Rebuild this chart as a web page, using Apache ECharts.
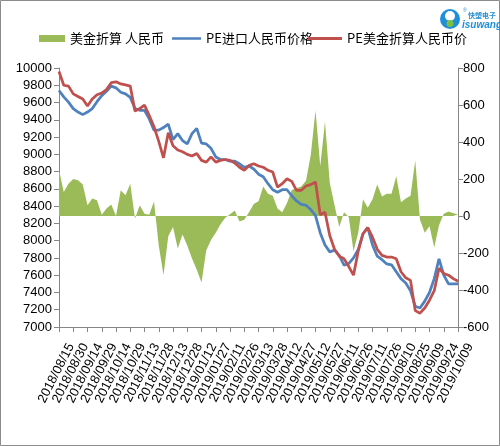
<!DOCTYPE html>
<html><head><meta charset="utf-8">
<script src="https://cdn.jsdelivr.net/npm/echarts@6/dist/echarts.min.js"></script>
<style>html,body{margin:0;padding:0;background:#fff}#c{width:500px;height:446px}</style>
</head><body><div id="c"></div>
<script>
const dates = ['2018/08/15','2018/08/20','2018/08/25','2018/08/30','2018/09/04','2018/09/09','2018/09/14','2018/09/19','2018/09/24','2018/09/29',
'2018/10/04','2018/10/09','2018/10/14','2018/10/19','2018/10/24','2018/10/29','2018/11/03','2018/11/08','2018/11/13','2018/11/18',
'2018/11/23','2018/11/28','2018/12/03','2018/12/08','2018/12/13','2018/12/18','2018/12/23','2018/12/28','2019/01/02','2019/01/07',
'2019/01/12','2019/01/17','2019/01/22','2019/01/27','2019/02/01','2019/02/06','2019/02/11','2019/02/16','2019/02/21','2019/02/26',
'2019/03/03','2019/03/08','2019/03/13','2019/03/18','2019/03/23','2019/03/28','2019/04/02','2019/04/07','2019/04/12','2019/04/17',
'2019/04/22','2019/04/27','2019/05/02','2019/05/07','2019/05/12','2019/05/17','2019/05/22','2019/05/27','2019/06/01','2019/06/06',
'2019/06/11','2019/06/16','2019/06/21','2019/06/26','2019/07/01','2019/07/06','2019/07/11','2019/07/16','2019/07/21','2019/07/26',
'2019/07/31','2019/08/05','2019/08/10','2019/08/15','2019/08/20','2019/08/25','2019/08/30','2019/09/04','2019/09/09','2019/09/14',
'2019/09/19','2019/09/24','2019/09/29','2019/10/04','2019/10/09'];

const spread = [250,130,175,200,193,170,58,94,85,7,
 40,62,0,139,112,175,-14,58,12,7,
 79,-160,-320,-110,-60,-175,-100,-160,-230,-290,
 -360,-185,-130,-90,-45,-10,10,30,-30,-20,
 20,65,80,160,120,110,40,20,70,140,
 150,160,190,330,570,270,510,180,60,-60,
 20,-5,-190,-90,90,45,90,170,105,120,
 120,215,75,95,110,300,-20,-90,-55,-170,
 -50,12,25,15,10];

const importPrice = [9740,9665,9605,9530,9490,9460,9490,9530,9610,9680,
 9730,9790,9770,9720,9700,9660,9530,9510,9510,9410,
 9280,9280,9310,9350,9170,9240,9160,9120,9240,9300,
 9130,9120,9070,8970,8940,8940,8920,8920,8890,8850,
 8865,8830,8770,8740,8660,8590,8560,8590,8590,8520,
 8460,8420,8410,8360,8290,8090,7950,7870,7890,7830,
 7715,7735,7800,7900,8080,8150,7950,7820,7780,7730,
 7720,7640,7560,7510,7420,7240,7220,7300,7400,7560,
 7790,7600,7500,7500,7500];

const usdPrice = [9960,9800,9790,9700,9670,9640,9560,9640,9690,9710,
 9750,9830,9840,9815,9805,9790,9500,9530,9570,9450,
 9320,9150,8960,9250,9100,9050,9030,9000,8980,9010,
 8930,8910,8970,8910,8930,8940,8930,8900,8850,8815,
 8870,8890,8865,8850,8815,8795,8620,8660,8718,8687,
 8583,8583,8633,8649,8680,8300,8330,8060,7900,7820,
 7790,7700,7600,7880,8080,8150,8040,7900,7830,7810,
 7810,7790,7640,7570,7540,7190,7160,7220,7310,7420,
 7680,7620,7600,7560,7530];

const tickLabels = ['2018/08/15','2018/08/30','2018/09/14','2018/09/29','2018/10/14','2018/10/29','2018/11/13','2018/11/28','2018/12/13','2018/12/28',
'2019/01/12','2019/01/27','2019/02/11','2019/02/26','2019/03/13','2019/03/28','2019/04/12','2019/04/27','2019/05/12','2019/05/27',
'2019/06/11','2019/06/26','2019/07/11','2019/07/26','2019/08/10','2019/08/25','2019/09/09','2019/09/24','2019/10/09'];

const seriesNames = ['美金折算 人民币','PE进口人民币价格','PE美金折算人民币价'];

// daily date axis spanning first to last tick label
const DAY = 86400000;
function parseDay(s){const p=s.split('/');return Date.UTC(+p[0],+p[1]-1,+p[2]);}
const pad2 = n => String(n).padStart(2,'0');
const fmtDay = t => { const d = new Date(t); return d.getUTCFullYear()+'/'+pad2(d.getUTCMonth()+1)+'/'+pad2(d.getUTCDate()); };
const t0 = parseDay(tickLabels[0]);
const tEnd = parseDay(tickLabels[tickLabels.length-1]);
const axisDays = [];
for (let t = t0; t <= tEnd; t += DAY) axisDays.push(fmtDay(t));
const tickSet = new Set(tickLabels);
const pts = arr => arr.map((v,i)=>[dates[i], v]);

const axisGray = '#868686';
const numFont = '"Liberation Sans", Arial, sans-serif';
const cjkFont = '"Noto Sans CJK SC", sans-serif';
const lineIcon = 'path://M0,0H30V2.6H0Z';
const legendText = {fontSize:13, color:'#000', fontFamily:cjkFont};
const chart = echarts.init(document.getElementById('c'), null, {renderer:'canvas'});
chart.setOption({
  animation:false,
  backgroundColor:'#fff',
  grid:{left:59, right:42, top:68, bottom:119, outerBoundsMode:'none'},
  legend:[
    {top:32, left:39, padding:0, itemWidth:26, itemHeight:7, textStyle:legendText, data:[{name:seriesNames[0], icon:'rect'}]},
    {top:32, left:172, padding:0, itemWidth:29, itemHeight:8, textStyle:legendText, data:[{name:seriesNames[1], icon:lineIcon}]},
    {top:32, left:308, padding:0, itemWidth:34, itemHeight:8, textStyle:legendText, data:[{name:seriesNames[2], icon:lineIcon}]}
  ],
  xAxis:{
    type:'category', data:axisDays, boundaryGap:false,
    axisLine:{show:true, onZero:false, lineStyle:{color:axisGray, width:1}},
    axisTick:{show:true, interval:14, length:5, lineStyle:{color:axisGray}},
    splitLine:{show:false},
    axisLabel:{
      interval:0, rotate:63, align:'right', verticalAlign:'top', padding:[7,0,0,0], margin:11,
      fontSize:13, color:'#000', fontFamily:numFont,
      formatter: v => tickSet.has(v) ? v : ''
    }
  },
  yAxis:[{
    type:'value', min:7000, max:10000, interval:200, position:'left',
    axisLine:{show:true, lineStyle:{color:axisGray}},
    axisTick:{show:true, length:5, lineStyle:{color:axisGray}},
    splitLine:{show:false},
    axisLabel:{fontSize:13, color:'#000', margin:7, fontFamily:numFont, formatter: v => String(v)}
  },{
    type:'value', min:-600, max:800, interval:200, position:'right',
    axisLine:{show:true, lineStyle:{color:axisGray}},
    axisTick:{show:true, length:5, lineStyle:{color:axisGray}},
    splitLine:{show:false},
    axisLabel:{fontSize:13, color:'#000', margin:5, fontFamily:numFont, formatter: v => String(v)}
  }],
  series:[{
    name:seriesNames[0], type:'line', yAxisIndex:1, data:pts(spread), symbol:'none', showSymbol:false,
    lineStyle:{width:0}, itemStyle:{color:'#9BBB59'}, areaStyle:{color:'#9BBB59', opacity:1}, z:1
  },{
    name:seriesNames[1], type:'line', yAxisIndex:0, data:pts(importPrice), symbol:'none', showSymbol:false,
    lineStyle:{width:2.75, color:'#4F81BD'}, itemStyle:{color:'#4F81BD'}, z:2
  },{
    name:seriesNames[2], type:'line', yAxisIndex:0, data:pts(usdPrice), symbol:'none', showSymbol:false,
    lineStyle:{width:2.75, color:'#C0504D'}, itemStyle:{color:'#C0504D'}, z:3
  }],
  graphic:[
    {type:'rect', shape:{x:0.5,y:0.5,width:499,height:445}, style:{fill:'none', stroke:'#8c8c8c', lineWidth:1}, silent:true},
    {type:'circle', shape:{cx:450, cy:19, r:10}, style:{fill:'#1e8fd8'}},
    {type:'circle', shape:{cx:450, cy:16, r:5}, style:{fill:'#ffffff'}},
    {type:'circle', shape:{cx:450, cy:23.5, r:3.5}, style:{fill:'#7cc043'}},
    {type:'text', x:468, y:12, style:{text:'快塑电子', fill:'#2a8fd0', fontSize:7, fontWeight:'bold', fontFamily:cjkFont}},
    {type:'text', x:462, y:20, style:{text:'isuwang', fill:'#1e8fd8', fontSize:10, fontWeight:'bold', fontStyle:'italic', fontFamily:numFont}},
    {type:'text', x:463, y:8, style:{text:'®', fill:'#1e8fd8', fontSize:5, fontFamily:numFont}}
  ]
});
</script></body></html>
